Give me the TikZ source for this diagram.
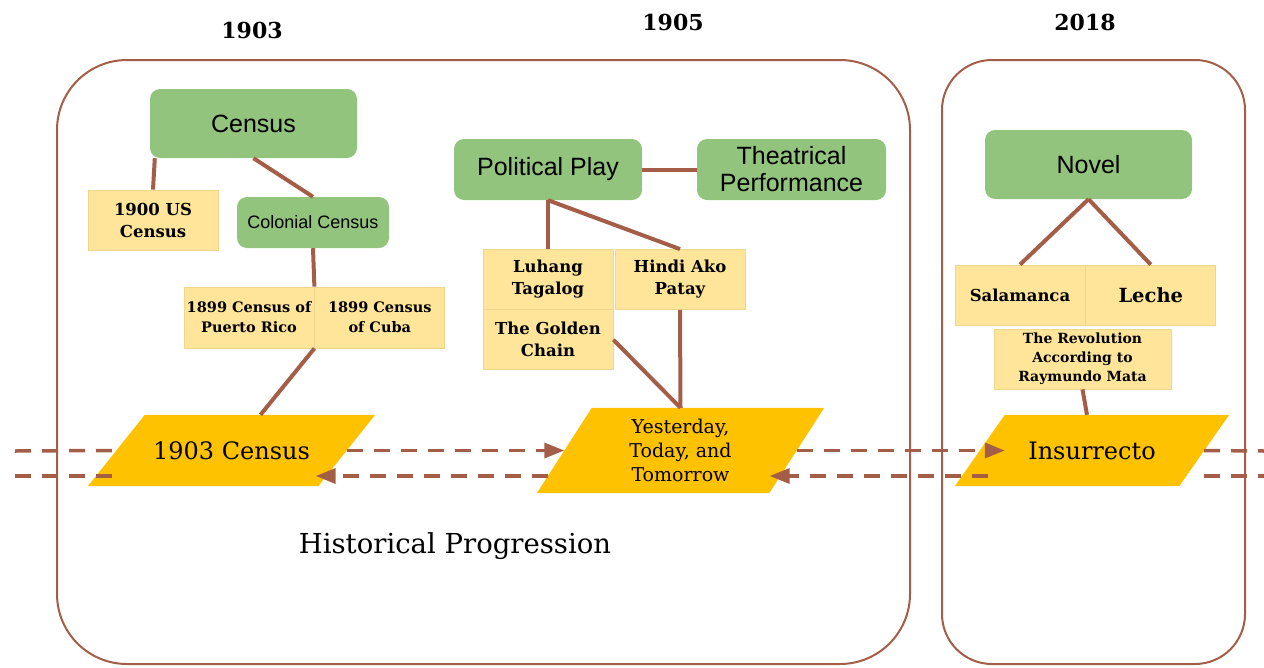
\documentclass[tikz,border=0pt]{standalone}
\usepackage{fontspec}
\setmainfont{DejaVu Serif}
\newfontfamily\sansfont{Liberation Sans}
\usepackage{tikz}
\usetikzlibrary{positioning,arrows.meta,backgrounds}
\definecolor{linkbrown}{RGB}{164,94,72}
\definecolor{topicgreen}{RGB}{147,196,125}
\definecolor{worklight}{RGB}{255,229,153}
\definecolor{workedge}{RGB}{240,214,140}
\definecolor{eventgold}{RGB}{255,194,0}
\tikzset{
  topic/.style={fill=topicgreen, rounded corners=10pt, inner sep=0pt, align=center, font=\sansfont\fontsize{25}{27}\selectfont},
  work/.style={fill=worklight, draw=workedge, line width=0.8pt, minimum width=130pt, minimum height=60pt, inner sep=0pt, align=center, font=\bfseries\fontsize{16.5}{22}\selectfont},
  eventbox/.style={inner sep=0pt, align=center, font=\fontsize{24}{28}\selectfont},
  link/.style={linkbrown, line width=4pt},
  flowline/.style={linkbrown, line width=3.5pt, dash pattern=on 16pt off 11pt},
  era/.style={linkbrown, line width=2pt},
  year/.style={font=\bfseries\fontsize{22}{26}\selectfont},
  tip/.style={-{Triangle[length=20pt,width=15pt]}}
}
\begin{document}
\begin{tikzpicture}[x=1pt,y=-1pt]
  \useasboundingbox (0,0) rectangle (1264,667);
  \node[year] (y1903) at (252,30) {1903};
  \node[year] (y1905) at (673,22) {1905};
  \node[year] (y2018) at (1085,22) {2018};
  \draw[era, rounded corners=70pt] (57,60) rectangle (910,664);
  \draw[era, rounded corners=50pt] (942,60) rectangle (1245,664);

  \node[topic, minimum width=207pt, minimum height=69pt] (census) at (253.5,123.5) {Census};
  \node[topic, minimum width=152pt, minimum height=51pt, font=\sansfont\fontsize{18}{21}\selectfont] (colcensus) at (313,222.5) {Colonial Census};
  \node[work] (uscensus) at (153,220) {1900 US\\Census};
  \node[work, minimum height=61pt, font=\bfseries\fontsize{14.5}{20}\selectfont] (prcensus) at (249,317.5) {1899 Census of\\Puerto Rico};
  \node[work, minimum height=61pt, font=\bfseries\fontsize{14.5}{20}\selectfont, right=0pt of prcensus] (cubacensus) {1899 Census\\of Cuba};

  \node[topic, minimum width=188pt, minimum height=61pt] (polplay) at (548,169.5) {Political Play};
  \node[topic, minimum width=189pt, minimum height=61pt] (theatre) at (791.5,169.5) {Theatrical\\Performance};
  \node[work] (luhang) at (548,279) {Luhang\\Tagalog};
  \node[work, below=0pt of luhang] (golden) {The Golden\\Chain};
  \node[work] (hindi) at (680,279.5) {Hindi Ako\\Patay};

  \node[topic, minimum width=207pt, minimum height=69pt] (novel) at (1088.5,164.5) {Novel};
  \node[work, font=\bfseries\fontsize{16.5}{22}\selectfont] (salamanca) at (1020,295) {Salamanca};
  \node[work, font=\bfseries\fontsize{19.5}{23}\selectfont, right=0pt of salamanca] (leche) {Leche};
  \node[work, minimum width=177pt, font=\bfseries\fontsize{14}{19}\selectfont] (revolution) at (1082.5,359) {The Revolution\\According to\\Raymundo Mata};

  \node[eventbox, minimum width=230pt, minimum height=71pt] (census1903) at (231.5,450.5) {1903 Census};
  \node[eventbox, minimum width=232pt, minimum height=85pt, font=\fontsize{19}{24}\selectfont] (ytt) at (680.5,450.5) {Yesterday,\\Today, and\\Tomorrow};
  \node[eventbox, minimum width=224pt, minimum height=71pt] (insurrecto) at (1092,450.5) {Insurrecto};
  \begin{scope}[on background layer]
    \fill[eventgold] ([xshift=-28.5pt]census1903.south west) -- ([xshift=28.5pt]census1903.north west) -- ([xshift=28.5pt]census1903.north east) -- ([xshift=-28.5pt]census1903.south east) -- cycle;
    \fill[eventgold] ([xshift=-27.5pt]ytt.south west) -- ([xshift=27.5pt]ytt.north west) -- ([xshift=27.5pt]ytt.north east) -- ([xshift=-27.5pt]ytt.south east) -- cycle;
    \fill[eventgold] ([xshift=-25pt]insurrecto.south west) -- ([xshift=25pt]insurrecto.north west) -- ([xshift=25pt]insurrecto.north east) -- ([xshift=-25pt]insurrecto.south east) -- cycle;
  \end{scope}
  \node[font=\fontsize{27.5}{32}\selectfont] (progress) at (455,546) {Historical Progression};

  \coordinate (leftA) at (15,451);
  \coordinate (leftB) at (15,476);
  \coordinate (rightA) at (1264,451);
  \coordinate (rightB) at (1264,476);

  \draw[link] ([xshift=5pt]census.south west) -- (uscensus.north);
  \draw[link] (census.south) -- (colcensus.north);
  \draw[link] (colcensus.south) -- (prcensus.north east);
  \draw[link] (prcensus.south east) -- ([xshift=29pt]census1903.north);
  \draw[link] (polplay.south) -- (luhang.north);
  \draw[link] (polplay.south) -- (hindi.north);
  \draw[link] (polplay.east) -- (theatre.west);
  \draw[link] (golden.east) -- (ytt.north);
  \draw[link] (hindi.south) -- (ytt.north);
  \draw[link] (novel.south) -- (salamanca.north);
  \draw[link] (novel.south) -- (leche.north);
  \draw[link] (revolution.south) -- ([xshift=-5pt]insurrecto.north);

  \draw[flowline] (leftA) -- (census1903.west);
  \draw[flowline, tip] (census1903.east) -- (ytt.west);
  \draw[flowline, tip, shorten >=-25pt] (ytt.east) -- (insurrecto.west);
  \draw[flowline] (insurrecto.east) -- (rightA);
  \draw[flowline] (leftB) -- (census1903.west |- leftB);
  \draw[flowline, tip, shorten <=16pt, shorten >=-31pt] (ytt.west |- leftB) -- (census1903.east |- leftB);
  \draw[flowline, tip, shorten <=-8pt, shorten >=-27pt] (insurrecto.west |- leftB) -- (ytt.east |- leftB);
  \draw[flowline] (insurrecto.east |- rightB) -- (rightB);
\end{tikzpicture}
\end{document}
